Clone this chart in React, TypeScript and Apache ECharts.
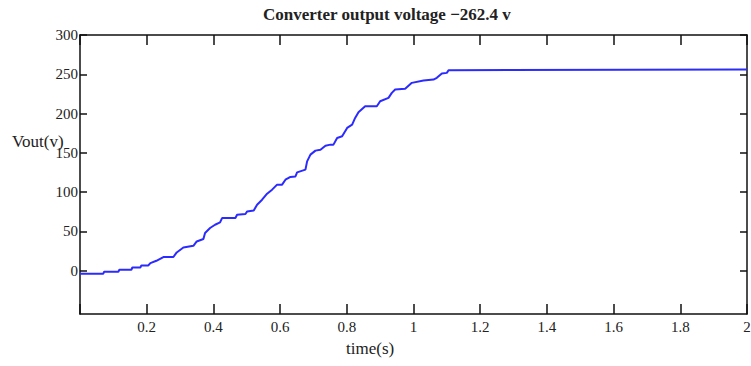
import React, { useEffect, useRef } from "react";
import * as echarts from "echarts";

const timeS: number[] = [
  0, 0.07, 0.072, 0.115, 0.118, 0.154, 0.157, 0.181, 0.184, 0.205, 0.211, 0.229, 0.25, 0.28,
  0.29, 0.31, 0.34, 0.35, 0.37, 0.375, 0.39, 0.405, 0.42, 0.426, 0.466, 0.471, 0.496, 0.501,
  0.521, 0.531, 0.546, 0.561, 0.576, 0.591, 0.606, 0.616, 0.631, 0.646, 0.651, 0.676, 0.681,
  0.691, 0.706, 0.721, 0.736, 0.751, 0.76, 0.771, 0.786, 0.801, 0.816, 0.825, 0.835, 0.855,
  0.89, 0.9, 0.925, 0.935, 0.945, 0.975, 0.995, 1.03, 1.06, 1.07, 1.085, 1.1, 1.105, 2.0,
];
const voutV: number[] = [
  -3.8, -3.8, -1.3, -1.3, 1.3, 1.3, 4.2, 4.2, 6.8, 6.8, 9.8, 12.7, 17.5, 17.5,
  23.3, 29.7, 31.8, 37.3, 40.4, 48.0, 54.4, 58.6, 61.5, 67.1, 67.1, 71.3, 72.2, 75.5,
  76.8, 84.1, 90.4, 98.1, 103.2, 109.6, 109.6, 115.9, 119.4, 120.1, 125.2, 128.7, 139.2,
  147.8, 152.9, 154.1, 159.2, 160.5, 160.5, 169.0, 171.1, 181.8, 186.0, 194.5, 201.7, 209.3,
  209.3, 215.7, 220.0, 226.4, 230.6, 231.5, 239.1, 242.0, 243.3, 245.5, 251.0, 251.8, 255.2, 256.0,
];
const yTicks: number[] = [0, 50, 100, 150, 200, 250, 300];
const titleText = "Converter output voltage \u2212262.4 v";
const yName = "Vout(v)";
const xName = "time(s)";

const FONT = "'Liberation Serif', 'DejaVu Serif', serif";

export default function App() {
  const ref = useRef<HTMLDivElement>(null);
  useEffect(() => {
    if (!ref.current) return;
    const chart = echarts.init(ref.current, undefined, { renderer: "svg" });
    const lineStyle = { color: "#111", width: 1.5 };
    chart.setOption({
      animation: false,
      backgroundColor: "#fff",
      grid: { left: 80, top: 35, width: 667, height: 279, containLabel: false, outerBoundsMode: "none" },
      xAxis: [
        {
          type: "value",
          position: "bottom",
          min: 0,
          max: 2,
          interval: 0.2,
          axisLine: { show: true, onZero: false, lineStyle },
          axisTick: { show: true, inside: true, length: 10, lineStyle },
          splitLine: { show: false },
          axisLabel: {
            color: "#222",
            fontFamily: FONT,
            fontSize: 15,
            margin: 5,
            formatter: (v: number) => (Math.abs(v) < 1e-9 ? "" : String(Math.round(v * 10) / 10)),
          },
        },
        {
          type: "value",
          position: "top",
          min: 0,
          max: 2,
          interval: 0.2,
          axisLine: { show: true, onZero: false, lineStyle },
          axisTick: { show: true, inside: true, length: 10, lineStyle },
          splitLine: { show: false },
          axisLabel: { show: false },
        },
      ],
      yAxis: [
        {
          type: "value",
          position: "left",
          min: -55,
          max: 300,
          axisLine: { show: true, onZero: false, lineStyle },
          axisTick: { show: true, inside: true, length: 7, lineStyle, customValues: yTicks },
          splitLine: { show: false },
          axisLabel: {
            color: "#222",
            fontFamily: FONT,
            fontSize: 15,
            margin: 2,
            customValues: yTicks,
          },
        },
        {
          type: "value",
          position: "right",
          min: -55,
          max: 300,
          axisLine: { show: true, onZero: false, lineStyle },
          axisTick: { show: true, inside: true, length: 7, lineStyle, customValues: yTicks },
          splitLine: { show: false },
          axisLabel: { show: false, customValues: yTicks },
        },
      ],
      series: [
        {
          type: "line",
          xAxisIndex: 0,
          yAxisIndex: 0,
          data: timeS.map((t, i) => [t, voutV[i]]),
          showSymbol: false,
          symbol: "none",
          lineStyle: { color: "#2b2bff", width: 2 },
          z: 3,
        },
      ],
      graphic: [
        {
          type: "text",
          left: 263,
          top: 6,
          style: { text: titleText, font: `bold 17px ${FONT}`, fill: "#222" },
        },
        {
          type: "text",
          left: 12,
          top: 133,
          style: { text: yName, font: `17px ${FONT}`, fill: "#222" },
        },
        {
          type: "text",
          left: 346,
          top: 340,
          style: { text: xName, font: `17px ${FONT}`, fill: "#222" },
        },
      ],
    });
    return () => chart.dispose();
  }, []);
  return (
    <div
      ref={ref}
      style={{ position: "fixed", left: 0, top: 0, width: 751, height: 366, background: "#fff" }}
    />
  );
}
